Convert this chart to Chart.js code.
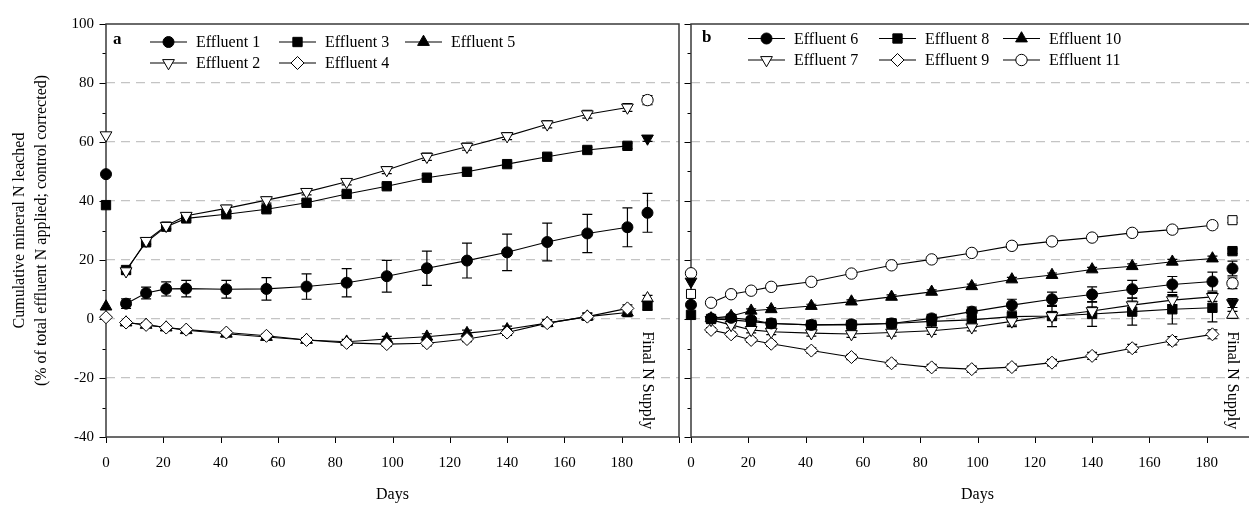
<!DOCTYPE html>
<html>
<head>
<meta charset="utf-8">
<script src="https://cdn.jsdelivr.net/npm/chart.js@4.4.1/dist/chart.umd.min.js"></script>
<style>
  html, body { margin: 0; padding: 0; background: #fff; overflow: hidden; width: 1249px; height: 505px; }
  #wrapA { position: absolute; left: 0; top: 0; width: 690px; height: 505px; }
  #wrapB { position: absolute; left: 670px; top: 0; width: 620px; height: 505px; }
</style>
</head>
<body>
<div id="wrapA"><canvas id="chartA"></canvas></div>
<div id="wrapB"><canvas id="chartB"></canvas></div>
<script>
// sampling days (lines start at day 7)
const days = [7, 14, 21, 28, 42, 56, 70, 84, 98, 112, 126, 140, 154, 168, 182];
const startDay = 0;
const finalDay = 189;
const xTickLabels = [0, 20, 40, 60, 80, 100, 120, 140, 160, 180];
const yTickLabels = [-40, -20, 0, 20, 40, 60, 80, 100];

// panel a
const eff1 = [5.2, 8.8, 10.2, 10.3, 10.1, 10.2, 11.0, 12.3, 14.5, 17.2, 19.8, 22.6, 26.1, 29.0, 31.1];
const eff1Err = [1.6, 2.0, 2.4, 2.8, 3.0, 3.8, 4.3, 4.8, 5.4, 5.8, 5.9, 6.2, 6.4, 6.5, 6.6];
const eff2 = [16.2, 26.5, 31.6, 35.0, 37.5, 40.3, 43.1, 46.5, 50.5, 55.0, 58.4, 62.0, 66.0, 69.4, 71.7];
const eff2Err = [1.0, 1.0, 1.0, 1.0, 1.0, 1.0, 1.0, 1.0, 1.2, 1.2, 1.2, 1.2, 1.2, 1.3, 1.3];
const eff3 = [16.6, 26.0, 31.3, 34.1, 35.5, 37.2, 39.4, 42.4, 45.0, 47.9, 49.9, 52.5, 55.0, 57.3, 58.7];
const eff3Err = [0.8, 0.8, 0.8, 0.8, 0.8, 0.8, 0.8, 0.8, 0.8, 0.8, 0.8, 0.8, 0.8, 0.9, 0.9];
const eff4 = [-1.2, -2.0, -2.9, -3.6, -4.6, -5.7, -7.1, -8.1, -8.5, -8.2, -6.8, -4.6, -1.4, 0.8, 3.6];
const eff4Err = [0.7, 0.7, 0.7, 0.7, 0.7, 0.7, 0.8, 0.8, 0.8, 0.9, 0.9, 1.0, 1.0, 1.1, 1.2];
const eff5 = [-1.2, -2.0, -2.9, -3.8, -5.0, -6.1, -7.1, -7.7, -6.8, -6.0, -4.8, -3.5, -1.4, 0.8, 2.2];
const eff5Err = [0.7, 0.7, 0.7, 0.7, 0.7, 0.7, 0.8, 0.8, 0.9, 1.0, 1.0, 1.1, 1.2, 1.3, 1.4];
const startA = [49.1, 62.3, 38.6, 4.2, 0.6];
const finalA = [74.2, 61.2, 36.0, 7.0, 4.5];
const finalAErr = [1.5, 1.0, 6.6, 1.0, 1.5];

// panel b
const eff6 = [0.2, 0.4, -0.3, -1.5, -2.0, -1.8, -1.5, 0.2, 2.5, 4.7, 6.7, 8.3, 10.1, 11.7, 12.7];
const eff6Err = [0.8, 0.8, 0.8, 1.0, 1.0, 1.2, 1.2, 1.4, 1.5, 2.0, 2.4, 2.6, 3.0, 2.7, 3.2];
const eff7 = [-0.3, -2.0, -3.7, -4.3, -4.8, -5.1, -4.6, -4.0, -2.8, -0.8, 1.0, 2.7, 4.7, 6.4, 7.5];
const eff7Err = [1.0, 1.0, 1.0, 1.0, 1.0, 1.1, 1.2, 1.2, 1.2, 1.3, 1.3, 1.4, 1.4, 1.5, 1.5];
const eff8 = [0.0, -0.3, -0.9, -1.5, -2.0, -2.0, -1.5, -0.8, -0.3, 0.8, 1.0, 1.7, 2.5, 3.3, 3.8];
const eff8Err = [0.8, 0.8, 1.0, 1.0, 1.0, 1.2, 1.5, 2.0, 2.5, 3.4, 3.6, 4.2, 4.6, 5.0, 4.8];
const eff9 = [-3.7, -5.2, -7.1, -8.4, -10.7, -12.9, -15.0, -16.4, -17.0, -16.3, -14.8, -12.5, -9.9, -7.4, -5.2];
const eff9Err = [0.8, 0.8, 0.8, 0.8, 0.9, 0.9, 1.0, 1.0, 1.0, 1.0, 1.1, 1.2, 1.3, 1.4, 1.5];
const eff10 = [0.2, 1.0, 2.8, 3.3, 4.4, 5.9, 7.5, 9.2, 11.1, 13.4, 14.9, 16.8, 17.9, 19.4, 20.5];
const eff10Err = [0.6, 0.6, 0.6, 0.6, 0.6, 0.6, 0.7, 0.7, 0.7, 0.7, 0.7, 0.7, 0.8, 0.8, 0.8];
const eff11 = [5.5, 8.4, 9.6, 10.9, 12.6, 15.4, 18.2, 20.2, 22.4, 24.8, 26.3, 27.6, 29.2, 30.3, 31.8];
const eff11Err = [0.7, 0.7, 0.7, 0.7, 0.7, 0.8, 0.8, 0.8, 0.8, 0.9, 0.9, 0.9, 0.9, 1.0, 1.0];
const startB = [15.5, 12.7, 8.5, 4.8, 1.4];
const finalB = [33.5, 23.0, 17.1, 12.1, 5.4, 1.4];
const finalBErr = [0.8, 0.8, 2.5, 1.8, 1.5, 1.2];

// marker shapes
const MARKS = {
  dot:         { style: 'circle',   r: 5.5, fill: '#000', rot: 0 },
  ring:        { style: 'circle',   r: 5.7, fill: '#fff', rot: 0 },
  square:      { style: 'rect',     r: 6.6, fill: '#000', rot: 0 },
  box:         { style: 'rect',     r: 6.4, fill: '#fff', rot: 0 },
  diamond:     { style: 'rectRot',  r: 6.5, fill: '#fff', rot: 0 },
  tri:         { style: 'triangle', r: 6.8, fill: '#000', rot: 0 },
  triOpen:     { style: 'triangle', r: 6.8, fill: '#fff', rot: 0 },
  triDown:     { style: 'triangle', r: 6.8, fill: '#000', rot: 180 },
  triDownOpen: { style: 'triangle', r: 6.8, fill: '#fff', rot: 180 }
};

const startAMarks = ['dot', 'triDownOpen', 'square', 'tri', 'diamond'];
const finalAMarks = ['ring', 'triDown', 'dot', 'triOpen', 'square'];
const startBMarks = ['ring', 'triDown', 'box', 'dot', 'square'];
const finalBMarks = ['box', 'square', 'dot', 'ring', 'triDown', 'triOpen'];

const SERIF = '"Liberation Serif", "Times New Roman", serif';

function lineSet(label, values, errors, mark) {
  const m = MARKS[mark];
  return {
    label, mark, errors,
    data: days.map((d, i) => ({ x: d, y: values[i] })),
    showLine: true, borderColor: '#000', borderWidth: 1.1, clip: false,
    pointStyle: m.style, pointRadius: m.r, pointHoverRadius: m.r, pointRotation: m.rot,
    pointBackgroundColor: m.fill, pointBorderColor: '#000', pointBorderWidth: 1
  };
}

function pointSet(day, values, errors, marks) {
  return {
    label: '', errors,
    data: values.map(v => ({ x: day, y: v })),
    showLine: false, clip: false,
    pointStyle: marks.map(k => MARKS[k].style),
    pointRadius: marks.map(k => MARKS[k].r),
    pointHoverRadius: marks.map(k => MARKS[k].r),
    pointRotation: marks.map(k => MARKS[k].rot),
    pointBackgroundColor: marks.map(k => MARKS[k].fill),
    pointBorderColor: '#000', pointBorderWidth: 1
  };
}

function drawMark(ctx, mark, x, y) {
  const m = MARKS[mark];
  ctx.save();
  ctx.fillStyle = m.fill;
  ctx.strokeStyle = '#000';
  ctx.lineWidth = 1;
  if (Chart.helpers && Chart.helpers.drawPoint) {
    Chart.helpers.drawPoint(ctx, { pointStyle: m.style, radius: m.r, rotation: m.rot, borderWidth: 1 }, x, y);
  } else {
    ctx.beginPath();
    ctx.arc(x, y, m.r, 0, Math.PI * 2);
    ctx.fill(); ctx.stroke();
  }
  ctx.restore();
}

// error bars under the markers
const errorBars = {
  id: 'errorBars',
  beforeDatasetsDraw(chart) {
    const ctx = chart.ctx, ys = chart.scales.y;
    ctx.save();
    ctx.strokeStyle = '#000';
    ctx.lineWidth = 1.2;
    chart.data.datasets.forEach((ds, di) => {
      if (!ds.errors) return;
      chart.getDatasetMeta(di).data.forEach((pt, i) => {
        const e = ds.errors[i];
        if (!e) return;
        const v = ds.data[i].y;
        const top = ys.getPixelForValue(v + e), bot = ys.getPixelForValue(v - e);
        ctx.beginPath();
        ctx.moveTo(pt.x, top); ctx.lineTo(pt.x, bot);
        ctx.moveTo(pt.x - 5, top); ctx.lineTo(pt.x + 5, top);
        ctx.moveTo(pt.x - 5, bot); ctx.lineTo(pt.x + 5, bot);
        ctx.stroke();
      });
    });
    ctx.restore();
  }
};

// frame and tick marks
const frame = {
  id: 'frame',
  beforeDatasetsDraw(chart) {
    const { ctx, chartArea: a } = chart;
    const xs = chart.scales.x, ys = chart.scales.y;
    ctx.save();
    ctx.strokeStyle = '#000';
    ctx.lineWidth = 1;
    ctx.beginPath();
    for (let v = -40; v <= 100; v += 10) {
      const y = Math.round(ys.getPixelForValue(v)) + 0.5;
      const len = v % 20 === 0 ? 6.5 : 3.5;
      ctx.moveTo(a.left - len, y); ctx.lineTo(a.left, y);
    }
    for (let v = 0; v <= 200; v += 20) {
      const x = Math.round(xs.getPixelForValue(v)) + 0.5;
      ctx.moveTo(x, a.bottom); ctx.lineTo(x, a.bottom + 6);
    }
    ctx.stroke();
    ctx.strokeStyle = '#3a3a3a';
    ctx.lineWidth = 1.5;
    ctx.strokeRect(a.left, a.top, a.right - a.left, a.bottom - a.top);
    ctx.restore();
  }
};

function makeDecor(cfg) {
  return {
    id: 'decor',
    afterDraw(chart) {
      const { ctx, chartArea: a } = chart;
      const xs = chart.scales.x, ys = chart.scales.y;
      ctx.save();
      ctx.fillStyle = '#000';
      ctx.font = 'bold 17px ' + SERIF;
      ctx.textBaseline = 'middle';
      ctx.textAlign = 'left';
      ctx.fillText(cfg.letter, a.left + cfg.letterX, a.top + cfg.letterY);

      ctx.font = '16px ' + SERIF;
      const sets = chart.data.datasets.filter(d => d.label);
      sets.forEach((ds, i) => {
        const col = Math.floor(i / 2), row = i % 2;
        const x0 = a.left + cfg.cols[col], y = a.top + cfg.rows[row];
        ctx.strokeStyle = '#000';
        ctx.lineWidth = 1.1;
        ctx.beginPath();
        ctx.moveTo(x0, y); ctx.lineTo(x0 + 37, y);
        ctx.stroke();
        drawMark(ctx, ds.mark, x0 + 18.5, y);
        ctx.fillStyle = '#000';
        ctx.fillText(ds.label, x0 + 46, y + 1);
      });

      ctx.translate(xs.getPixelForValue(finalDay), ys.getPixelForValue(-4.2));
      ctx.rotate(Math.PI / 2);
      ctx.textBaseline = 'middle';
      ctx.fillText('Final N Supply', 0, 0);
      ctx.restore();
    }
  };
}

function axes(showY) {
  return {
    x: {
      type: 'linear', min: 0, max: 200,
      afterFit(s) { s.height = 68; },
      grid: { display: false },
      border: { display: false },
      ticks: {
        stepSize: 20, autoSkip: false, maxRotation: 0, padding: 9,
        color: '#000', font: { family: SERIF, size: 15 },
        callback: v => xTickLabels.includes(v) ? String(v) : ''
      },
      title: { display: true, text: 'Days', color: '#000', font: { family: SERIF, size: 16 }, padding: { top: 0, bottom: 1 } }
    },
    y: {
      min: -40, max: 100,
      afterFit(s) { s.width = showY ? 106 : 21; },
      border: { display: false, dash: [9, 6] },
      grid: {
        drawTicks: false, lineWidth: 1.2,
        color: c => (c.tick && c.tick.value % 20 === 0 && c.tick.value > -40 && c.tick.value < 100) ? '#c4c4c4' : 'rgba(0,0,0,0)'
      },
      ticks: {
        display: showY, stepSize: 10, autoSkip: false, padding: 12,
        color: '#000', font: { family: SERIF, size: 15 },
        callback: v => yTickLabels.includes(v) ? String(v) : ''
      },
      title: {
        display: showY, color: '#000',
        text: ['Cumulative mineral N leached', '(% of total effluent N applied; control corrected)'],
        font: { family: SERIF, size: 16, lineHeight: 1.375 },
        padding: { top: 9, bottom: 0 }
      }
    }
  };
}

function baseOptions(showY, pad) {
  return {
    responsive: true, maintainAspectRatio: false, animation: false,
    layout: { padding: pad },
    plugins: { legend: { display: false }, tooltip: { enabled: false } },
    events: [],
    scales: axes(showY)
  };
}

new Chart(document.getElementById('chartA'), {
  type: 'line',
  data: {
    datasets: [
      lineSet('Effluent 1', eff1, eff1Err, 'dot'),
      lineSet('Effluent 2', eff2, eff2Err, 'triDownOpen'),
      lineSet('Effluent 3', eff3, eff3Err, 'square'),
      lineSet('Effluent 4', eff4, eff4Err, 'diamond'),
      lineSet('Effluent 5', eff5, eff5Err, 'tri'),
      pointSet(startDay, startA, null, startAMarks),
      pointSet(finalDay, finalA, finalAErr, finalAMarks)
    ]
  },
  options: baseOptions(true, { left: 0, right: 11, top: 24, bottom: 0 }),
  plugins: [errorBars, frame, makeDecor({ letter: 'a', letterX: 7, letterY: 16, cols: [44, 173, 299], rows: [18, 39] })]
});

new Chart(document.getElementById('chartB'), {
  type: 'line',
  data: {
    datasets: [
      lineSet('Effluent 6', eff6, eff6Err, 'dot'),
      lineSet('Effluent 7', eff7, eff7Err, 'triDownOpen'),
      lineSet('Effluent 8', eff8, eff8Err, 'square'),
      lineSet('Effluent 9', eff9, eff9Err, 'diamond'),
      lineSet('Effluent 10', eff10, eff10Err, 'tri'),
      lineSet('Effluent 11', eff11, eff11Err, 'ring'),
      pointSet(startDay, startB, null, startBMarks),
      pointSet(finalDay, finalB, finalBErr, finalBMarks)
    ]
  },
  options: baseOptions(false, { left: 0, right: 26, top: 24, bottom: 0 }),
  plugins: [errorBars, frame, makeDecor({ letter: 'b', letterX: 11, letterY: 14, cols: [57, 188, 312], rows: [14.5, 36] })]
});
</script>
</body>
</html>
